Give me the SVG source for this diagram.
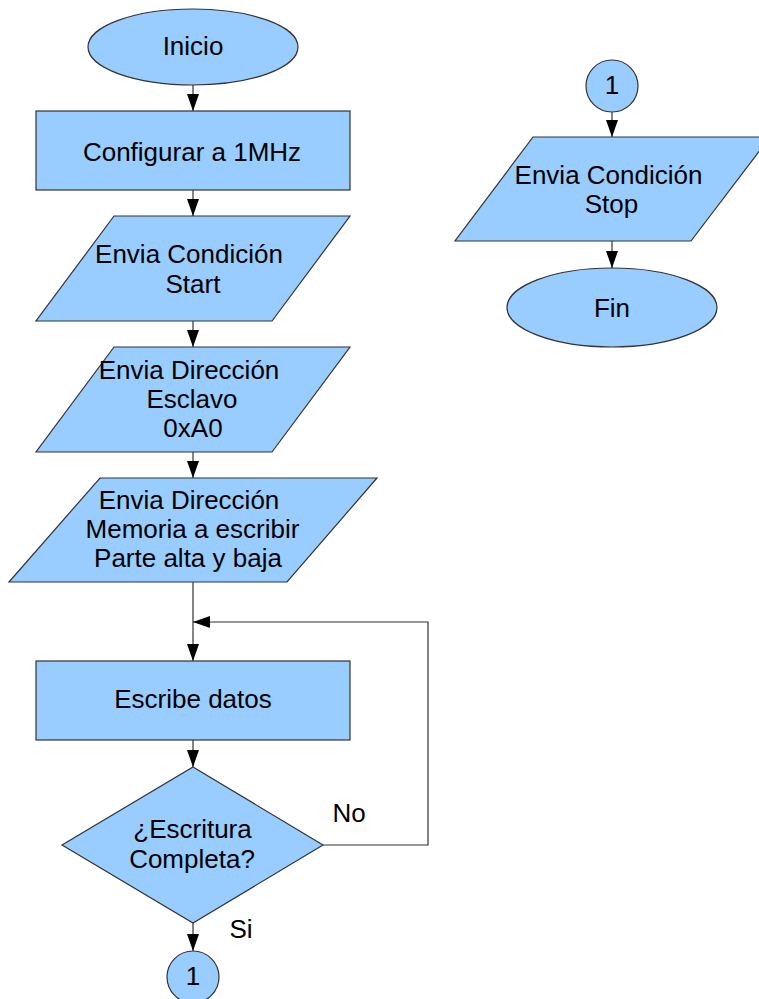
<svg xmlns="http://www.w3.org/2000/svg" width="759" height="999" viewBox="0 0 759 999">
<style>
.s{fill:#99ccff;stroke:#333333;stroke-width:1.2}
.t{font-family:"Liberation Sans",Arial,sans-serif;font-size:26px;fill:#000;text-anchor:middle}
.c{fill:none;stroke:#333333;stroke-width:1.2}
</style>
<defs>
<marker id="ah" markerUnits="userSpaceOnUse" markerWidth="18" markerHeight="12" refX="17" refY="6" orient="auto" viewBox="0 0 18 12">
<path d="M0,0 L17,6 L0,12 z" fill="#000"/>
</marker>
</defs>
<rect width="759" height="999" fill="#fff"/>
<g id="connectors">
<line class="c" x1="193" y1="85" x2="193" y2="111" marker-end="url(#ah)"/>
<line class="c" x1="193" y1="190" x2="193" y2="216" marker-end="url(#ah)"/>
<line class="c" x1="193" y1="321" x2="193" y2="347" marker-end="url(#ah)"/>
<line class="c" x1="193" y1="452" x2="193" y2="478" marker-end="url(#ah)"/>
<line class="c" x1="193" y1="582" x2="193" y2="661" marker-end="url(#ah)"/>
<polyline class="c" points="323,845 428,845 428,622 193,622" marker-end="url(#ah)"/>
<line class="c" x1="193" y1="740" x2="193" y2="767" marker-end="url(#ah)"/>
<line class="c" x1="193" y1="923" x2="193" y2="951" marker-end="url(#ah)"/>
<line class="c" x1="612" y1="112" x2="612" y2="137" marker-end="url(#ah)"/>
<line class="c" x1="612" y1="241" x2="612" y2="268" marker-end="url(#ah)"/>
<text class="t" x="349" y="822">No</text>
<text class="t" x="241" y="938">Si</text>
</g>
<g id="inicio">
<ellipse class="s" cx="193" cy="47" rx="105" ry="38"/>
<text class="t" x="193" y="55">Inicio</text>
</g>
<g id="configurar">
<rect class="s" x="36" y="111" width="314" height="79"/>
<text class="t" x="192" y="161">Configurar a 1MHz</text>
</g>
<g id="start">
<polygon class="s" points="114,216 350,216 272,321 36,321"/>
<text class="t" x="189" y="263">Envia Condición</text>
<text class="t" x="193" y="293">Start</text>
</g>
<g id="esclavo">
<polygon class="s" points="114,347 350,347 272,452 36,452"/>
<text class="t" x="189" y="379">Envia Dirección</text>
<text class="t" x="192" y="408">Esclavo</text>
<text class="t" x="193" y="437">0xA0</text>
</g>
<g id="memoria">
<polygon class="s" points="100,478 377,478 287,582 9,582"/>
<text class="t" x="189" y="509">Envia Dirección</text>
<text class="t" x="192.5" y="538">Memoria a escribir</text>
<text class="t" x="188" y="567">Parte alta y baja</text>
</g>
<g id="escribe">
<rect class="s" x="36" y="661" width="314" height="79"/>
<text class="t" x="193" y="708">Escribe datos</text>
</g>
<g id="decision">
<polygon class="s" points="193,767 323,845 193,923 62,845"/>
<text class="t" x="192.5" y="838">¿Escritura</text>
<text class="t" x="192" y="868">Completa?</text>
</g>
<g id="conector1a">
<circle class="s" cx="193" cy="977" r="26"/>
<text class="t" x="193" y="985">1</text>
</g>
<g id="conector1b">
<circle class="s" cx="612" cy="86" r="26"/>
<text class="t" x="612" y="94">1</text>
</g>
<g id="stop">
<polygon class="s" points="533,137 770,137 691,241 455,241"/>
<text class="t" x="608.5" y="184">Envia Condición</text>
<text class="t" x="611.5" y="213">Stop</text>
</g>
<g id="fin">
<ellipse class="s" cx="612" cy="307.5" rx="105" ry="39.5"/>
<text class="t" x="612" y="317">Fin</text>
</g>
</svg>
